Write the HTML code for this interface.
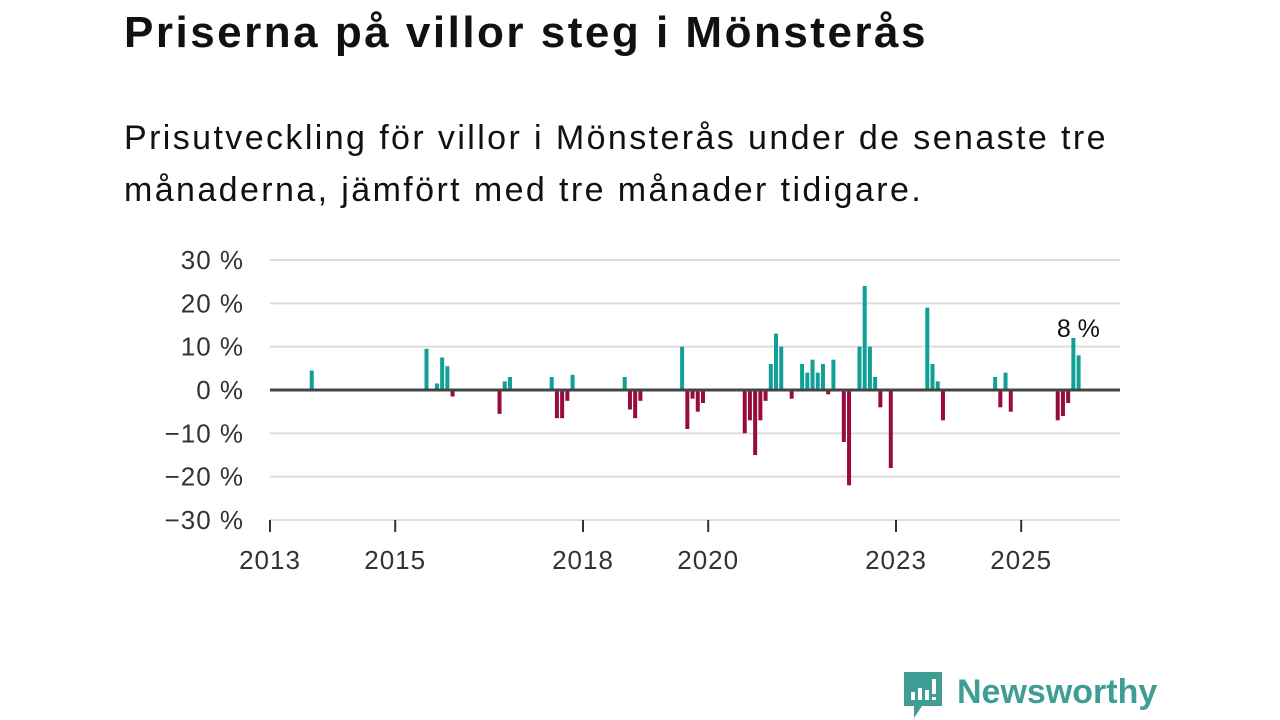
<!DOCTYPE html>
<html><head><meta charset="utf-8"><style>
body{margin:0;width:1280px;height:720px;background:#fff;font-family:"Liberation Sans",sans-serif;color:#111;overflow:hidden;position:relative}
#title{position:absolute;left:124px;top:8px;font-size:44px;font-weight:bold;margin:0;letter-spacing:2.5px;white-space:nowrap}
#sub{position:absolute;left:124px;top:112px;font-size:34px;line-height:52px;margin:0;letter-spacing:2.4px;white-space:nowrap}
svg{position:absolute;left:0;top:0}
</style></head><body>
<h1 id="title">Priserna på villor steg i Mönsterås</h1>
<p id="sub">Prisutveckling för villor i Mönsterås under de senaste tre<br>månaderna, jämfört med tre månader tidigare.</p>
<svg id="chart" width="1280" height="720"></svg>
<script>
const months=[8,30,32,33,34,35,44,45,46,54,55,56,57,58,68,69,70,71,79,80,81,82,83,91,92,93,94,95,96,97,98,100,102,103,104,105,106,107,108,110,111,113,114,115,116,117,119,126,127,128,129,139,140,141,142,151,152,153,154,155];
const values=[4.5,9.5,1.5,7.5,5.5,-1.5,-5.5,2,3,3,-6.5,-6.5,-2.5,3.5,3,-4.5,-6.5,-2.5,10,-9,-2,-5,-3,-10,-7,-15,-7,-2.5,6,13,10,-2,6,4,7,4,6,-1,7,-12,-22,10,24,10,3,-4,-18,19,6,2,-7,3,-4,4,-5,-7,-6,-3,12,8];
const yTicks=[30,20,10,0,-10,-20,-30];
const yTickLabels=["30 %","20 %","10 %","0 %","−10 %","−20 %","−30 %"];
const xYears=[2013,2015,2018,2020,2023,2025];
const lastLabel="8 %";
const NS="http://www.w3.org/2000/svg",svg=document.getElementById('chart');
const x0=270,pxMonth=62.6/12,y0=390,pxPct=130/30;
const X=m=>x0+m*pxMonth, Y=v=>y0-v*pxPct;
function mk(t,a){const e=document.createElementNS(NS,t);for(const k in a)e.setAttribute(k,a[k]);svg.appendChild(e);return e;}
yTicks.forEach((v,i)=>{
 if(v!==0){const g=mk('line',{x1:270,x2:1120,y1:Y(v),y2:Y(v),stroke:'#ddd','stroke-width':2});
 
 }
 const t=mk('text',{x:244,y:Y(v)+9,'text-anchor':'end','font-size':26,'letter-spacing':1,fill:'#333'});t.textContent=yTickLabels[i];
 
 
});
xYears.forEach(yr=>{
 const x=X((yr-2013)*12);
 const l=mk('line',{x1:x,x2:x,y1:520,y2:532,stroke:'#333','stroke-width':2});
 
 
 const t=mk('text',{x:x,y:569,'text-anchor':'middle','font-size':26,'letter-spacing':1,fill:'#333'});t.textContent=yr;
 
 
});
months.forEach((m,i)=>{
 const v=values[i],x=X(m);
 const r=mk('rect',{x:x-2,y:Math.min(Y(v),y0),width:4,height:Math.abs(Y(v)-y0),fill:v>=0?'#11a097':'#970b3d'});
 
 
});
const zl=mk('line',{x1:270,x2:1120,y1:y0,y2:y0,stroke:'#444','stroke-width':3});


const li=months.length-1,lx=X(months[li-1]);
const lbl=mk('text',{x:lx+5,y:Y(values[li-1])-1,'text-anchor':'middle','font-size':25,fill:'#111'});lbl.textContent=lastLabel;


</script>
<svg width="1280" height="720" style="pointer-events:none">
<path d="M904 672h38v34h-20l-8 12v-12h-10z" fill="#3f9d95"/>
<rect x="911" y="692" width="4" height="8" fill="#fff"/><rect x="918" y="688" width="4" height="12" fill="#fff"/><rect x="925" y="690" width="4" height="10" fill="#fff"/><rect x="932" y="679" width="4" height="15" fill="#fff"/><rect x="932" y="697" width="4" height="3" fill="#fff"/>
<text x="957" y="703" font-size="34" font-weight="bold" fill="#3f9d95" font-family="Liberation Sans,sans-serif">Newsworthy</text>
</svg>
</body></html>
